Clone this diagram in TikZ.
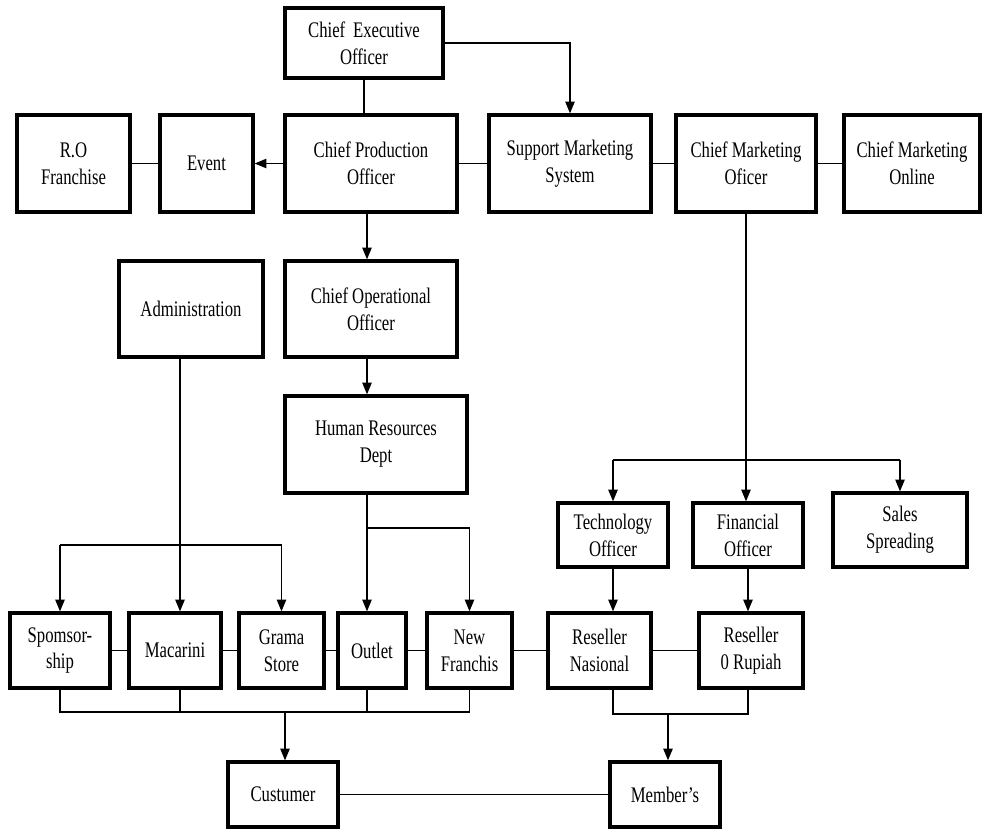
\documentclass[tikz,border=0pt]{standalone}
\usepackage{fontspec}
\setmainfont{Liberation Serif}[FakeStretch=0.75]
\usetikzlibrary{arrows.meta}

\begin{document}
\begin{tikzpicture}[x=0.03cm, y=-0.03cm,
    box/.style={draw, line width=2.8pt, rectangle, align=center, inner sep=2pt,
                font=\fontsize{19}{23}\selectfont},
    every path/.style={line width=1.1pt},
    >={Triangle[length=10pt,width=8pt]}]
            \useasboundingbox (0,0) rectangle (982,829);

            % top row
            \node[box, minimum width=4.74cm, minimum height=2.1cm] (ceo) at (364,43) {Chief\, Executive\\Officer};
            \node[box, minimum width=3.39cm, minimum height=2.91cm] (rof) at (73.5,163.5) {R.O\\Franchise};
            \node[box, minimum width=2.79cm, minimum height=2.91cm] (event) at (206.5,163.5) {Event};
            \node[box, minimum width=5.16cm, minimum height=2.91cm] (cpo) at (371,163.5) {Chief Production\\Officer};
            \node[box, minimum width=4.86cm, minimum height=2.91cm] (sms) at (570,163.5) {Support Marketing\\System};
            \node[box, minimum width=4.2cm, minimum height=2.91cm] (cmo) at (746,163.5) {Chief Marketing\\Oficer};
            \node[box, minimum width=4.08cm, minimum height=2.91cm] (cmon) at (912,163.5) {Chief Marketing\\Online};

            % middle
            \node[box, minimum width=4.32cm, minimum height=2.88cm] (adm) at (191,309) {Administration};
            \node[box, minimum width=5.16cm, minimum height=2.88cm] (coo) at (371,309) {Chief Operational\\Officer};
            \node[box, minimum width=5.46cm, minimum height=2.91cm] (hr) at (376,444.5) {Human Resources\\Dept};
            \node[box, minimum width=3.3cm, minimum height=1.92cm] (tech) at (613,535) {Technology\\Officer};
            \node[box, minimum width=3.3cm, minimum height=1.92cm] (fin) at (748,535) {Financial\\Officer};
            \node[box, minimum width=4.02cm, minimum height=2.22cm] (sales) at (900,530) {Sales\\Spreading};

            % outlets row
            \node[box, minimum width=3.0cm, minimum height=2.25cm] (spom) at (60,650.5) {Spomsor-\\ship};
            \node[box, minimum width=2.76cm, minimum height=2.25cm] (mac) at (175,650.5) {Macarini};
            \node[box, minimum width=2.55cm, minimum height=2.25cm] (grama) at (281.5,650.5) {Grama\\Store};
            \node[box, minimum width=2.04cm, minimum height=2.25cm] (outlet) at (372,650.5) {Outlet};
            \node[box, minimum width=2.55cm, minimum height=2.25cm] (newf) at (469.5,650.5) {New\\Franchis};
            \node[box, minimum width=3.09cm, minimum height=2.25cm] (resn) at (599.5,650.5) {Reseller\\Nasional};
            \node[box, minimum width=3.12cm, minimum height=2.25cm] (res0) at (751,650.5) {Reseller\\0 Rupiah};

            % bottom
            \node[box, minimum width=3.3cm, minimum height=1.95cm] (cust) at (283,794.5) {Custumer};
            \node[box, minimum width=3.3cm, minimum height=1.95cm] (memb) at (665,794.5) {Member's};

            \coordinate (mktbus) at (746,460);
            \coordinate (admbus) at (180,545);
            \coordinate (hrbus) at (367,528);
            \coordinate (custbus) at (285,712);
            \coordinate (membus) at (668,714);

            \draw (ceo.south) -- (ceo.south |- cpo.north);
            \draw[->] (ceo.east) -| (sms.north);
            \draw[->] (cpo.west) -- (event.east);
            \draw (rof) -- (event);
            \draw (cpo) -- (sms);
            \draw (sms) -- (cmo);
            \draw (cmo) -- (cmon);
            \draw[->] (cpo.south -| hrbus) -- (hrbus |- coo.north);
            \draw[->] (coo.south -| hrbus) -- (hrbus |- hr.north);

            \draw[->] (cmo.south) -- (cmo.south |- fin.north);
            \draw (mktbus -| tech.north) -- (mktbus -| sales.north);
            \draw[->] (mktbus -| tech.north) -- (tech.north);
            \draw[->] (mktbus -| sales.north) -- (sales.north);
            \draw[->] (tech.south) -- (tech.south |- resn.north);
            \draw[->] (fin.south) -- (fin.south |- res0.north);

            \draw (adm.south -| admbus) -- (admbus);
            \draw (admbus -| spom.north) -- (admbus -| grama.north);
            \draw[->] (admbus -| spom.north) -- (spom.north);
            \draw[->] (admbus) -- (admbus |- mac.north);
            \draw[->] (admbus -| grama.north) -- (grama.north);

            \draw (hr.south -| hrbus) -- (hrbus);
            \draw[->] (hrbus) -- (hrbus |- outlet.north);
            \draw[->] (hrbus) -| (newf.north);

            \draw (spom) -- (mac);
            \draw (mac) -- (grama);
            \draw (grama) -- (outlet);
            \draw (outlet) -- (newf);
            \draw (newf) -- (resn);
            \draw (resn) -- (res0);

            \draw (spom.south) -- (spom.south |- custbus) -- (newf.south |- custbus) -- (newf.south);
            \draw (admbus |- mac.south) -- (admbus |- custbus);
            \draw (hrbus |- outlet.south) -- (hrbus |- custbus);
            \draw[->] (custbus) -- (custbus |- cust.north);

            \draw (tech.south |- resn.south) -- (tech.south |- membus) -- (fin.south |- membus) -- (fin.south |- res0.south);
            \draw[->] (membus) -- (membus |- memb.north);
            \draw (cust) -- (memb);
        \end{tikzpicture}
\end{document}
